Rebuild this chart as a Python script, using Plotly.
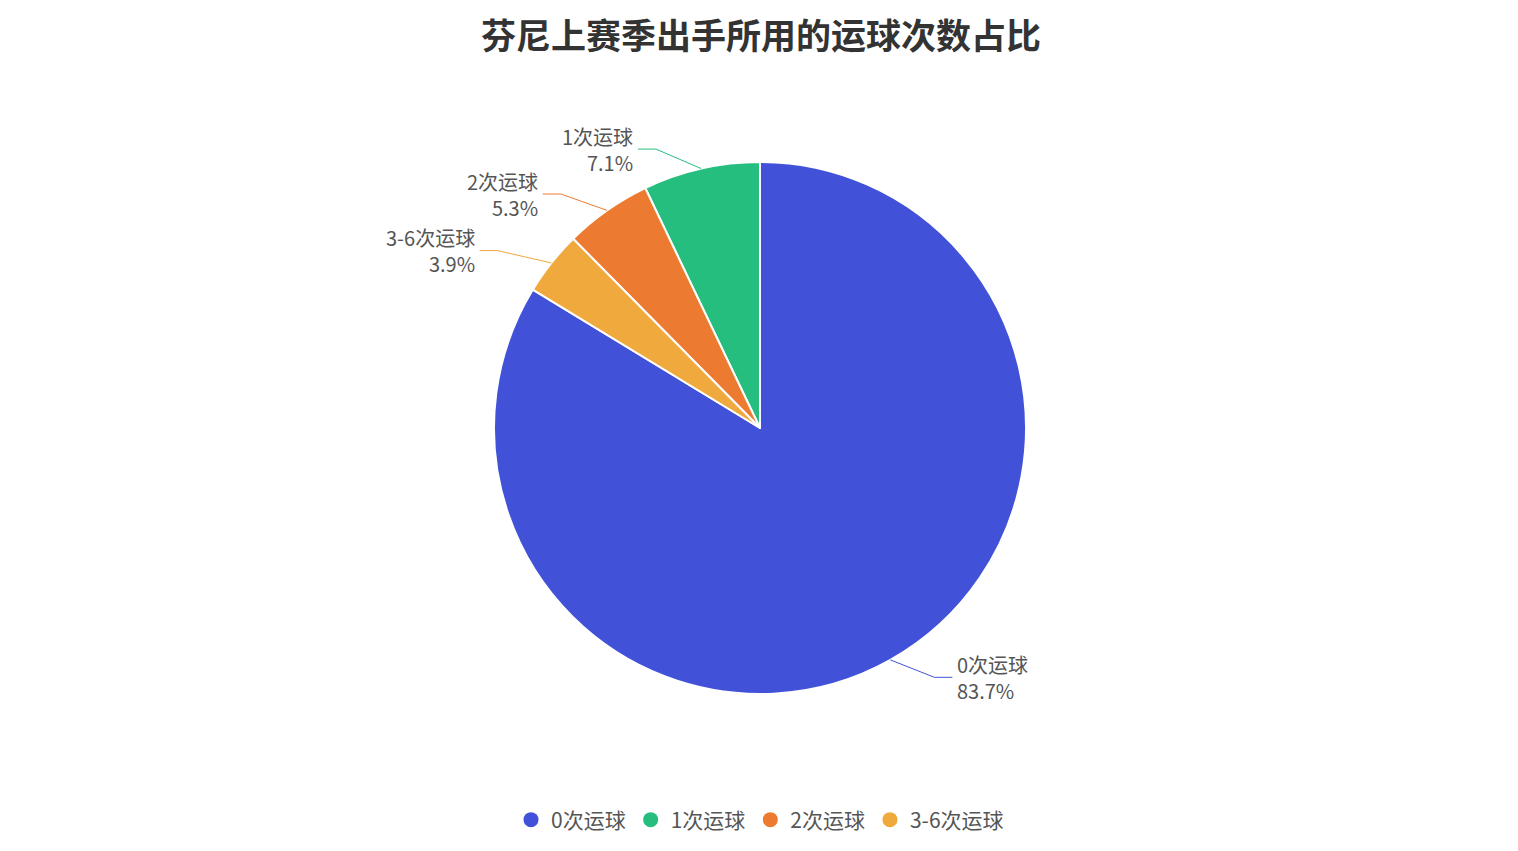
import math
import plotly.graph_objects as go

# data
categories = ['0次运球', '1次运球', '2次运球', '3-6次运球']
shares = [83.7, 7.1, 5.3, 3.9]
colors = ['#4152D9', '#26BE7E', '#EC7B31', '#F0A93D']

font_family = 'Noto Sans CJK SC, Noto Sans, sans-serif'
W, H = 1518, 851

# pie geometry in figure pixels (page body adds 8px offset)
cx, cy, r = 752, 420, 266

fig = go.Figure()
fig.add_trace(go.Pie(
    labels=categories, values=shares, sort=False,
    direction='counterclockwise', rotation=0,
    marker=dict(colors=colors, line=dict(color='white', width=2)),
    textposition='none', showlegend=False, hoverinfo='label+percent',
    domain=dict(x=[(cx - r) / W, (cx + r) / W], y=[1 - (cy + r) / H, 1 - (cy - r) / H]),
))

# outside labels with leader lines (echarts style), placed from slice angles
total = sum(shares)
ell_a, ell_b = r + 63, r + 28
px = lambda x: x / W
py = lambda y: 1 - y / H
cum = 0.0
for name, v, c in zip(categories, shares, colors):
    theta = (shares[0] - cum - v / 2) / total * 2 * math.pi
    cum += v
    s, co = math.sin(theta), math.cos(theta)
    d = 1 if s >= 0 else -1
    x0, y0 = cx + r * s, cy - r * co
    y1 = cy - (r + 20) * co
    x1 = cx + d * ell_a * math.sqrt(max(0.0, 1 - ((y1 - cy) / ell_b) ** 2))
    x2 = x1 + d * 18
    fig.add_shape(type='path', xref='paper', yref='paper',
                  path=f'M {px(x0)},{py(y0)} L {px(x1)},{py(y1)} L {px(x2)},{py(y1)}',
                  line=dict(color=c, width=1))
    pct = v / total * 100
    fig.add_annotation(x=px(x2 + d * 3), y=py(y1), xref='paper', yref='paper',
                       text=f'{name}<br>{pct:.1f}%', showarrow=False,
                       xanchor='left' if d > 0 else 'right', yanchor='middle',
                       align='left' if d > 0 else 'right',
                       font=dict(size=20, color='#555555', family=font_family))

# legend entries with round markers
for name, c in zip(categories, colors):
    fig.add_trace(go.Scatter(x=[None], y=[None], mode='markers', name=name,
                             marker=dict(symbol='circle', size=15, color=c)))

fig.update_layout(
    width=W, height=H,
    paper_bgcolor='white', plot_bgcolor='white',
    margin=dict(l=0, r=0, t=0, b=0),
    title=dict(text='<b>芬尼上赛季出手所用的运球次数占比</b>', x=753 / W, xanchor='center',
               y=1 - 29 / H, yanchor='middle',
               font=dict(size=35, color='#333333', family=font_family)),
    legend=dict(orientation='h', x=752 / W, xanchor='center', y=1 - 812 / H, yanchor='middle',
                font=dict(size=21, color='#555555', family=font_family),
                itemsizing='trace'),
    xaxis=dict(visible=False), yaxis=dict(visible=False),
    font=dict(family=font_family),
    hovermode=False,
)

fig.write_html('out.html')
